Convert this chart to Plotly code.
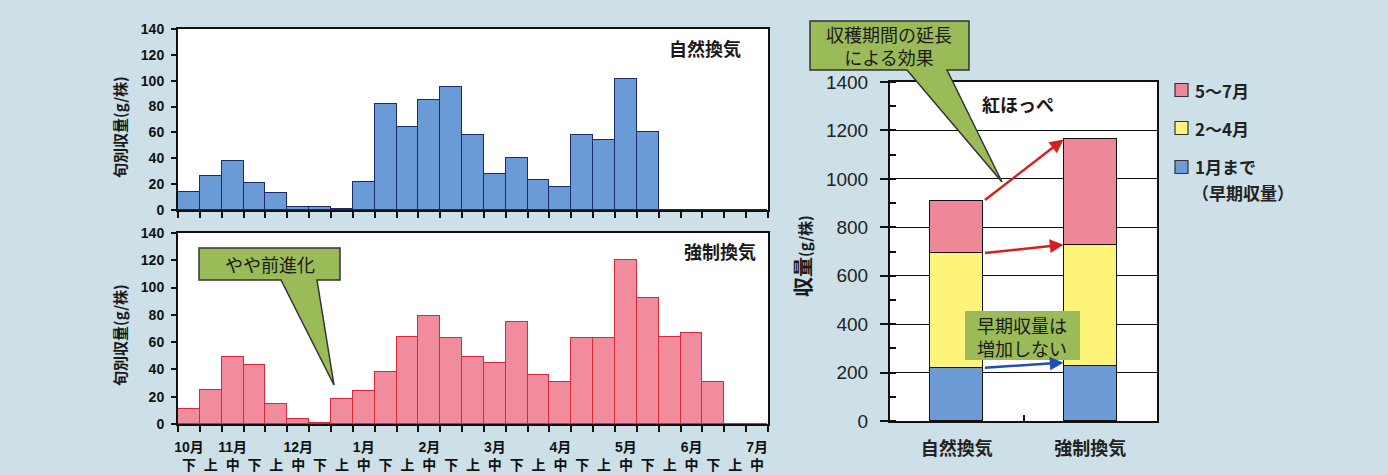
import plotly.graph_objects as go

W, H = 1388, 475
BG = "#cddfe7"

# ---------------- data ----------------
slots = ["10月下", "11月上", "11月中", "11月下", "12月上", "12月中", "12月下",
         "1月上", "1月中", "1月下", "2月上", "2月中", "2月下", "3月上", "3月中", "3月下",
         "4月上", "4月中", "4月下", "5月上", "5月中", "5月下", "6月上", "6月中", "6月下",
         "7月上", "7月中"]
slot_ticktext = ["10月<br>下", " <br>上", "11月<br>中", " <br>下", " <br>上", "12月<br>中", " <br>下",
                 " <br>上", "1月<br>中", " <br>下", " <br>上", "2月<br>中", " <br>下",
                 " <br>上", "3月<br>中", " <br>下", " <br>上", "4月<br>中", " <br>下",
                 " <br>上", "5月<br>中", " <br>下", " <br>上", "6月<br>中", " <br>下",
                 " <br>上", "7月<br>中"]
natural = [14, 26, 38, 21, 13, 2, 2, 1, 22, 82, 64, 85, 95, 58, 28, 40, 23, 18, 58, 54, 101, 60,
           0, 0, 0, 0, 0]
forced = [11, 25, 49, 43, 15, 4, 1, 18, 24, 38, 64, 79, 63, 49, 45, 75, 36, 31, 63, 63, 120, 92,
          64, 67, 31, 0, 0]

methods = ["自然換気", "強制換気"]
early = [220, 226]      # 1月まで（早期収量）
feb_apr = [473, 502]    # 2～4月
may_jul = [215, 435]    # 5～7月
series_names = ["5～7月", "2～4月", "1月まで", "（早期収量）"]
series_colors = ["#ee8899", "#fff47a", "#6d9bd5"]

def px(x):
    return x / W

def py(y):
    return 1 - y / H

FONT = "Liberation Sans, Noto Sans CJK JP, sans-serif"
CJK = "Noto Sans CJK JP, sans-serif"

fig = go.Figure()

# ---- left charts ----
fig.add_trace(go.Bar(x=slots, y=natural, xaxis="x", yaxis="y", width=1,
                     marker=dict(color="#6a9bd6", line=dict(color="#1b2a6b", width=1.3)),
                     showlegend=False))
fig.add_trace(go.Bar(x=slots, y=forced, xaxis="x2", yaxis="y2", width=1,
                     marker=dict(color="#f08c9c", line=dict(color="#d8283c", width=1.3)),
                     showlegend=False))

# ---- right stacked chart ----
for vals, name, col in [(early, series_names[2], series_colors[2]),
                        (feb_apr, series_names[1], series_colors[1]),
                        (may_jul, series_names[0], series_colors[0])]:
    fig.add_trace(go.Bar(x=methods, y=vals, xaxis="x3", yaxis="y3", width=0.4, name=name,
                         marker=dict(color=col, line=dict(color="#111111", width=1.5)),
                         showlegend=False))

left_dom = [px(178), px(768)]
xcommon = dict(type="category", categoryorder="array", categoryarray=slots, tickson="boundaries",
               ticks="outside", ticklen=6, tickwidth=1.5, tickcolor="#111", showline=True,
               linewidth=2, linecolor="#111", mirror=True, showgrid=False, range=[-0.5, 26.5],
               automargin=False)
ycommon = dict(range=[0, 140], dtick=20, ticks="outside", ticklen=5, tickwidth=1.5, tickcolor="#111",
               showline=True, linewidth=2, linecolor="#111", mirror=True, showgrid=False, zeroline=False,
               tickfont=dict(family=FONT, size=14, color="#111", weight="bold"), ticklabelstandoff=4,
               automargin=False)

fig.update_layout(
    width=W, height=H, margin=dict(l=0, r=0, t=0, b=0, autoexpand=False),
    paper_bgcolor=BG, plot_bgcolor="white", barmode="stack", bargap=0,
    xaxis=dict(domain=left_dom, anchor="y", showticklabels=False, **xcommon),
    yaxis=dict(domain=[py(210), py(29)], anchor="x", **ycommon),
    xaxis2=dict(domain=left_dom, anchor="y2", showticklabels=True, tickmode="array",
                tickvals=slots, ticktext=slot_ticktext, ticklabelstandoff=9, tickangle=0,
                tickfont=dict(family=FONT, size=14, color="#111", weight="bold"), **xcommon),
    yaxis2=dict(domain=[py(424), py(233)], anchor="x2", **ycommon),
    xaxis3=dict(domain=[px(890), px(1157)], anchor="y3", type="category", tickson="boundaries",
                ticks="inside", ticklen=6, tickwidth=2, tickcolor="#111", showline=True, linewidth=2,
                linecolor="#111", mirror=True, showgrid=False, ticklabelstandoff=10, tickangle=0,
                tickfont=dict(family=CJK, size=18, color="#222", weight="bold"), automargin=False),
    yaxis3=dict(domain=[py(421), py(82)], anchor="x3", range=[0, 1400], dtick=200, ticks="outside",
                ticklen=8, tickwidth=1.5, tickcolor="#111", showline=True, linewidth=2, linecolor="#111",
                mirror=True, showgrid=True, gridcolor="#111", gridwidth=1, zeroline=False,
                minor=dict(dtick=100, ticks="inside", ticklen=6, tickcolor="#111", showgrid=False),
                tickfont=dict(family=FONT, size=19, color="#222"), ticklabelstandoff=8, automargin=False),
    showlegend=False,
)

# ---- legend (manual) ----
leg_y = [90, 128, 167]
for col, yy in zip(series_colors, leg_y):
    fig.add_shape(type="rect", xref="paper", yref="paper", x0=px(1175), x1=px(1188),
                  y0=py(yy + 6.5), y1=py(yy - 6.5), fillcolor=col, line=dict(color="#333", width=1.2))
for name, xx, yy in zip(series_names, [1193, 1193, 1193, 1190], [90, 128, 167, 192]):
    fig.add_annotation(x=px(xx), y=py(yy), xref="paper", yref="paper", text=name, showarrow=False,
                       xanchor="left", yanchor="middle", align="left",
                       font=dict(family=CJK, size=17, color="#222", weight="bold"))

# ---- callout shapes ----
def path(points):
    return "M " + " L ".join(f"{px(x):.5f},{py(y):.5f}" for x, y in points) + " Z"

GREEN = "#9bbb59"
fig.add_shape(type="path", xref="paper", yref="paper",
              path=path([(199, 248), (340, 248), (340, 280), (317, 280), (334, 385), (281, 280), (199, 280)]),
              fillcolor=GREEN, line=dict(color="#333", width=1.5), layer="above")
fig.add_shape(type="path", xref="paper", yref="paper",
              path=path([(810, 21), (969, 21), (969, 70), (947, 70), (1002, 182), (907, 70), (810, 70)]),
              fillcolor=GREEN, line=dict(color="#333", width=1.5), layer="above")
fig.add_shape(type="rect", xref="paper", yref="paper", x0=px(965), x1=px(1080), y0=py(360), y1=py(311),
              fillcolor=GREEN, line=dict(width=0), layer="above")

def txt(x, y, s, size=18, bold=False, **kw):
    fig.add_annotation(x=px(x), y=py(y), xref="paper", yref="paper", text=s, showarrow=False,
                       font=dict(family=CJK, size=size, color="#1a1a1a", weight="bold" if bold else "normal"),
                       xanchor="center", yanchor="middle", **kw)

txt(270, 264, "やや前進化", 18)
txt(889, 46, "収穫期間の延長<br>による効果", 18)
txt(1022, 336, "早期収量は<br>増加しない", 18)
txt(1018, 104, "紅ほっぺ", 18, bold=True)
txt(705, 48, "自然換気", 18, bold=True)
txt(720, 251, "強制換気", 18, bold=True)

# y-axis titles
txt(119, 127, "旬別収量(g/株)", 15, bold=True, textangle=-90)
txt(119, 335, "旬別収量(g/株)", 15, bold=True, textangle=-90)
txt(802, 256, "収量<span style='font-size:15px'>(g/株)</span>", 20, bold=True, textangle=-90)

# ---- arrows (data coordinates of right chart) ----
tot_nat = [early[0], early[0] + feb_apr[0], early[0] + feb_apr[0] + may_jul[0]]
tot_frc = [early[1], early[1] + feb_apr[1], early[1] + feb_apr[1] + may_jul[1]]
arrows = [(tot_nat[2], tot_frc[2], "#d42020"), (tot_nat[1], tot_frc[1], "#d42020"),
          (tot_nat[0], tot_frc[0] + 15, "#1f4fb0")]
for y0, y1, c in arrows:
    fig.add_annotation(x=0.8, y=y1, ax=0.2, ay=y0, xref="x3", yref="y3", axref="x3", ayref="y3",
                       text="", showarrow=True, arrowhead=2, arrowsize=1.1, arrowwidth=2.5, arrowcolor=c)

fig.write_html("out.html")
